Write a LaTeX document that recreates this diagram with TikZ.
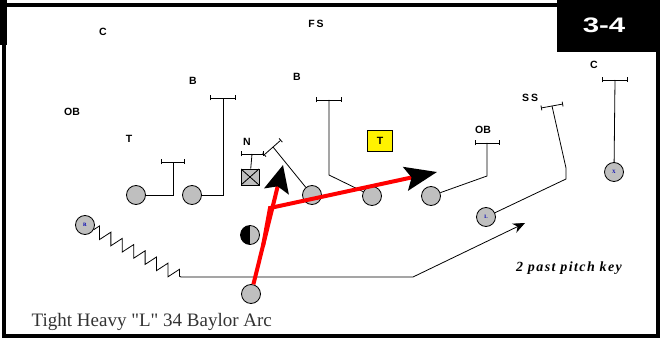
\documentclass[tikz,border=0pt]{standalone}
\usepackage{fontspec}
\setmainfont{Liberation Serif}[Ligatures=TeXOff]
\setsansfont{Liberation Sans}
\usetikzlibrary{arrows.meta,decorations.pathmorphing}

\begin{document}
\begin{tikzpicture}[x=1pt,y=-1pt,line width=0.8pt,
    man/.style={circle,draw,fill=gray!50,inner sep=0pt,minimum size=19,font=\fontsize{5}{5}\selectfont\bfseries},
    half/.style={man,path picture={\fill[black] (path picture bounding box.north west) rectangle (path picture bounding box.south);}},
    xbox/.style={draw,fill=gray!50,minimum width=18,minimum height=16,inner sep=0pt,
      path picture={\draw (path picture bounding box.north west) -- (path picture bounding box.south east)
        (path picture bounding box.north east) -- (path picture bounding box.south west);}},
    tag/.style={font=\sffamily\bfseries\fontsize{10.5}{10.5}\selectfont},
    tbar/.style={{Bar[width=5pt]}-{Bar[width=5pt]}},
    redrun/.style={red,line width=4pt}]
    \useasboundingbox (0,0) rectangle (661,339);
    % frame and title box
    \draw[line width=4] (4,5) rectangle (658,336);
    \fill (0,0) rectangle (7,45);
    \fill (557,0) rectangle (660,52);
    \node[white,font=\sffamily\bfseries\fontsize{21}{21}\selectfont,xscale=1.4,transform shape] (title) at (604,25) {3-4};
    % defense
    \node[tag] (c1) at (103,32) {C};
    \node[tag] (fs) at (316,24) {F\kern2pt S};
    \node[tag] (lb1) at (193,81) {B};
    \node[tag] (lb2) at (297,77) {B};
    \node[tag] (ob1) at (72,112) {OB};
    \node[tag] (t1) at (129,139) {T};
    \node[tag] (n1) at (247,142) {N};
    \node[tag,draw,fill=yellow,minimum width=25,minimum height=21] (t2) at (380,141) {T};
    \node[tag] (ob2) at (483,130) {OB};
    \node[tag] (ss) at (530,98) {S\kern2pt S};
    \node[tag] (c2) at (594,65) {C};
    % offense
    \node[man] (g1) at (136,195) {};
    \node[man] (g2) at (192,195) {};
    \node[xbox] (ctr) at (250,177) {};
    \node[man] (g3) at (312,195) {};
    \node[man] (g4) at (372,196) {};
    \node[man] (g5) at (431,196) {};
    \node[man,text=blue!70!black] (rb) at (85,225) {R};
    \node[man,text=blue!70!black] (lw) at (486,217) {L};
    \node[man,text=blue!70!black] (xw) at (614,172) {X};
    \node[half] (qb) at (250,235) {};
    \node[man] (tb) at (251,294) {};
    % blocks
    \coordinate (k1) at (173,162);
    \coordinate (k2) at (223,98);
    \coordinate (k3) at (252,154);
    \coordinate (k4) at (329,175);
    \coordinate (k5) at (329,100);
    \coordinate (k6) at (487,176);
    \coordinate (k7) at (487,143);
    \coordinate (k8) at (566,179);
    \coordinate (k9) at (566,168);
    \coordinate (k10) at (552,106);
    \coordinate (k11) at (615,80);
    \coordinate (k12) at (273,147);
    \draw (g1) -| (k1);
    \draw[tbar] ([xshift=-12]k1) -- ([xshift=12]k1);
    \draw (g2) -| (k2);
    \draw[tbar] ([xshift=-13]k2) -- ([xshift=13]k2);
    \draw (ctr) -- (k3);
    \draw[tbar] ([xshift=-11]k3) -- ([xshift=12]k3);
    \draw (g3) -- (k12);
    \draw[tbar] (264,155) -- (281,140);
    \draw (g4) -- (k4) -- (k5);
    \draw[tbar] ([xshift=-13]k5) -- ([xshift=13]k5);
    \draw (g5) -- (k6) -- (k7);
    \draw[tbar] ([xshift=-12]k7) -- ([xshift=13]k7);
    \draw (lw) -- (k8) -- (k9) -- (k10);
    \draw[tbar] (541,108) -- (563,104);
    \draw (xw) -- (k11);
    \draw[tbar] ([xshift=-13]k11) -- ([xshift=13]k11);
    % pitch path
    \coordinate (z1) at (181,277);
    \coordinate (z2) at (413,277);
    \coordinate (z3) at (525,223);
    \draw[decorate,decoration={zigzag,segment length=13,amplitude=6}] (rb) -- (z1);
    \draw[-{Stealth[length=12,width=10]}] (z1) -- (z2) -- (z3);
    % runs
    \coordinate (a1) at (283,165);
    \coordinate (q0) at (263,246);
    \coordinate (r1) at (270,208);
    \coordinate (r2) at (437,172);
    \draw[redrun,-{Stealth[black,length=27pt,width=25pt,inset=5pt]}] (tb) -- (a1);
    \draw[redrun,-{Stealth[black,length=32pt,width=24pt,inset=6pt]}] (q0) -- (r1) -- (r2);
    % captions
    \node[font=\bfseries\itshape\addfontfeature{LetterSpace=10}\fontsize{14}{14}\selectfont] (key) at (569,268) {2 past pitch key};
    \node[anchor=west,text=black!80,font=\fontsize{19}{19}\selectfont] (name) at (28,322) {Tight Heavy "L" 34 Baylor Arc};
\end{tikzpicture}
\end{document}
